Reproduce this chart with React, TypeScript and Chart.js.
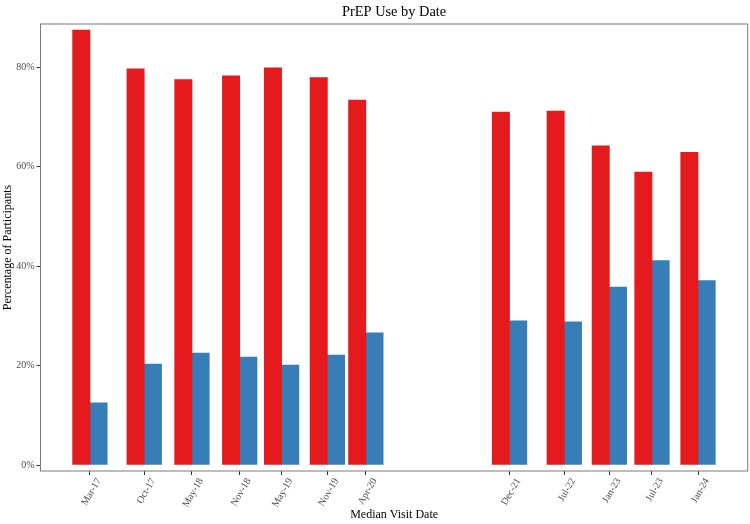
import { useEffect, useRef } from 'react';
import { Chart, registerables } from 'chart.js';

Chart.register(...registerables);

// Median visit date of each study wave
const visitDates = [
  '2017-03-15', '2017-10-24', '2018-05-08', '2018-11-20', '2019-05-11', '2019-11-15',
  '2020-04-21', '2021-12-02', '2022-07-15', '2023-01-16', '2023-07-10', '2024-01-15',
];
const tickLabels = [
  'Mar-17', 'Oct-17', 'May-18', 'Nov-18', 'May-19', 'Nov-19',
  'Apr-20', 'Dec-21', 'Jul-22', 'Jan-23', 'Jul-23', 'Jan-24',
];
// Percentage of participants per wave
const prepUse = [87.5, 79.7, 77.5, 78.3, 79.9, 77.9, 73.4, 71.0, 71.2, 64.2, 58.9, 62.9];
const noPrepUse = [12.5, 20.3, 22.5, 21.7, 20.1, 22.1, 26.6, 29.0, 28.8, 35.8, 41.1, 37.1];
const yTicks = [0, 20, 40, 60, 80];
const xRange = ['2016-08-24', '2024-08-06'];
const yRange = [-1.2, 88.7];

const FONT = '"Liberation Serif", "Times New Roman", serif';
const RED = '#E41A1C';
const BLUE = '#377EB8';

const toDay = (iso: string) => Date.parse(iso + 'T00:00:00Z') / 86400000;

const panelPlugin = {
  id: 'panelFrame',
  afterDraw(chart: any) {
    const { ctx, chartArea } = chart;
    const { left, right, top, bottom } = chartArea;
    ctx.save();
    ctx.strokeStyle = '#7a7a7a';
    ctx.lineWidth = 1;
    ctx.strokeRect(left, top, right - left, bottom - top);
    ctx.fillStyle = '#000';
    ctx.font = `14.4px ${FONT}`;
    ctx.textAlign = 'center';
    ctx.textBaseline = 'alphabetic';
    ctx.fillText('PrEP Use by Date', (left + right) / 2, 16);
    ctx.restore();
  },
};

export default function App() {
  const canvasRef = useRef<HTMLCanvasElement | null>(null);

  useEffect(() => {
    if (!canvasRef.current) return;
    const days = visitDates.map(toDay);
    const chart = new Chart(canvasRef.current, {
      type: 'bar',
      data: {
        datasets: [
          {
            label: 'PrEP use',
            data: days.map((x, i) => ({ x, y: prepUse[i] })),
            backgroundColor: RED,
            borderWidth: 0,
            barThickness: 17.3,
          },
          {
            label: 'No PrEP use',
            data: days.map((x, i) => ({ x, y: noPrepUse[i] })),
            backgroundColor: BLUE,
            borderWidth: 0,
            barThickness: 17.3,
          },
        ],
      },
      options: {
        animation: false,
        responsive: false,
        layout: { padding: { top: 24, right: 2.3, left: 0, bottom: 0 } },
        plugins: {
          legend: { display: false },
          tooltip: { enabled: false },
          title: { display: false },
        },
        scales: {
          x: {
            type: 'linear',
            offset: false,
            min: toDay(xRange[0]),
            max: toDay(xRange[1]),
            afterBuildTicks: (s: any) => {
              s.ticks = days.map((v) => ({ value: v }));
            },
            afterFit: (s: any) => {
              s.height = 53;
            },
            ticks: {
              autoSkip: false,
              minRotation: 60,
              maxRotation: 60,
              padding: 1,
              labelOffset: 9,
              color: '#4d4d4d',
              font: { family: FONT, size: 10 },
              callback: (_v: any, i: number) => tickLabels[i],
            },
            grid: {
              display: true,
              offset: false,
              drawOnChartArea: false,
              drawTicks: true,
              tickLength: 4,
              tickColor: '#333',
              tickWidth: 1,
            },
            border: { display: false },
            title: {
              display: true,
              text: 'Median Visit Date',
              color: '#000',
              font: { family: FONT, size: 12 },
              padding: { top: 0, bottom: 2 },
            },
          },
          y: {
            min: yRange[0],
            max: yRange[1],
            afterBuildTicks: (s: any) => {
              s.ticks = yTicks.map((v) => ({ value: v }));
            },
            afterFit: (s: any) => {
              s.width = 40.5;
            },
            ticks: {
              padding: 2,
              color: '#4d4d4d',
              font: { family: FONT, size: 10 },
              callback: (v: any) => `${v}%`,
            },
            grid: {
              display: true,
              offset: false,
              drawOnChartArea: false,
              drawTicks: true,
              tickLength: 4,
              tickColor: '#333',
              tickWidth: 1,
            },
            border: { display: false },
            title: {
              display: true,
              text: 'Percentage of Participants',
              color: '#000',
              font: { family: FONT, size: 12 },
              padding: { top: 1, bottom: 0 },
            },
          },
        },
      },
      plugins: [panelPlugin],
    } as any);
    return () => chart.destroy();
  }, []);

  return (
    <div style={{ position: 'fixed', left: 0, top: 0, width: 750, height: 524, background: '#fff' }}>
      <canvas ref={canvasRef} width={750} height={524} style={{ display: 'block' }} />
    </div>
  );
}
